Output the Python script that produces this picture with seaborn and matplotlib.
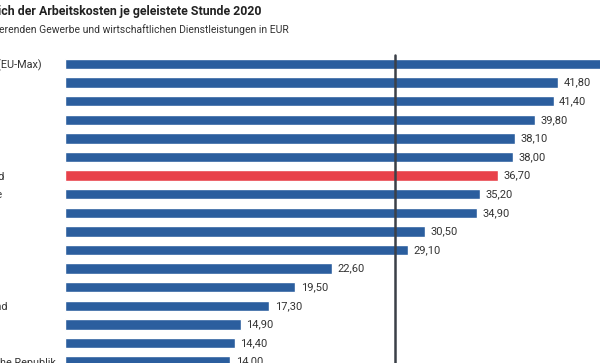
import seaborn as sns
import matplotlib.pyplot as plt
import pandas as pd

# ---------------- Daten (Arbeitskosten je geleistete Stunde 2020, EUR) ----------------
laender = ['Dänemark (EU-Max)', 'Luxemburg', 'Belgien', 'Frankreich', 'Schweden',
           'Österreich', 'Deutschland', 'Niederlande', 'Finnland', 'Irland', 'Italien',
           'Spanien', 'Slowenien', 'Griechenland', 'Portugal', 'Estland',
           'Tschechische Republik']
kosten = [46.90, 41.80, 41.40, 39.80, 38.10, 38.00, 36.70, 35.20, 34.90, 30.50,
          29.10, 22.60, 19.50, 17.30, 14.90, 14.40, 14.00]
eu_schnitt = 28.0

titel = 'EU-Vergleich der Arbeitskosten je geleistete Stunde 2020'
titel_rest = 'ich der Arbeitskosten je geleistete Stunde 2020'
untertitel = 'Im Produzierenden Gewerbe und wirtschaftlichen Dienstleistungen in EUR'
untertitel_rest = 'erenden Gewerbe und wirtschaftlichen Dienstleistungen in EUR'

BLAU = '#2b5e9e'
ROT = '#e8414a'
TEXT = '#333333'

sns.set_style('white')
plt.rcParams['font.family'] = ['Roboto', 'DejaVu Sans']

df = pd.DataFrame({'Land': laender, 'EUR': kosten})
farben = [ROT if l == 'Deutschland' else BLAU for l in laender]

W, H, DPI = 600, 363, 100
fig = plt.figure(figsize=(W / DPI, H / DPI), dpi=DPI)
renderer = fig.canvas.get_renderer()


def breite(s, **kw):
    t = fig.text(0, 0, s, **kw)
    w = t.get_window_extent(renderer).width
    t.remove()
    return w


# Achse: 0 bei x=65px, 11.8 px je EUR, Zeilen ab y=64px mit 18.6px Abstand
n = len(laender)
top_px = 64 - 0.5 * 18.6
bot_px = 64 + (n - 0.5) * 18.6
ax = fig.add_axes([65 / W, 1 - bot_px / H, (W - 65) / W, (bot_px - top_px) / H])

sns.barplot(data=df, x='EUR', y='Land', hue='Land', palette=farben, legend=False,
            orient='h', width=0.56, saturation=1, ax=ax)
ax.set_xlim(0, (W - 65) / 11.8)
ax.set_ylim(n - 0.5, -0.5)

ax.axvline(eu_schnitt, ymin=0, ymax=1.0, color='#3b4048', linewidth=1.8, clip_on=False)

for c in ax.containers:
    ax.bar_label(c, labels=[f'{v:.2f}'.replace('.', ',') for v in c.datavalues],
                 padding=4, fontsize=8, color=TEXT)

sns.despine(ax=ax, left=True, bottom=True)
ax.set_xlabel('')
ax.set_ylabel('')
ax.set_xticks([])

# Länderbeschriftung linksbündig, Start links außerhalb des Bildes
lab_size = 7.8
x0 = 5 - breite('Deutschland', fontsize=lab_size)
ax.tick_params(axis='y', length=0, pad=(65 - x0) * 72 / DPI, labelsize=lab_size,
               labelcolor=TEXT)
for t in ax.get_yticklabels():
    t.set_ha('left')

# Titel und Untertitel (links angeschnitten)
kw_t = dict(fontsize=8.9, fontweight='bold')
tx = (-2 - breite(titel, **kw_t) + breite(titel_rest, **kw_t)) / W
fig.text(tx, 1 - 11 / H, titel, color='#222222', va='center', **kw_t)
kw_u = dict(fontsize=7.5)
ux = (-1 - breite(untertitel, **kw_u) + breite(untertitel_rest, **kw_u)) / W
fig.text(ux, 1 - 30 / H, untertitel, color=TEXT, va='center', **kw_u)

fig.savefig('out.png', dpi=DPI)
